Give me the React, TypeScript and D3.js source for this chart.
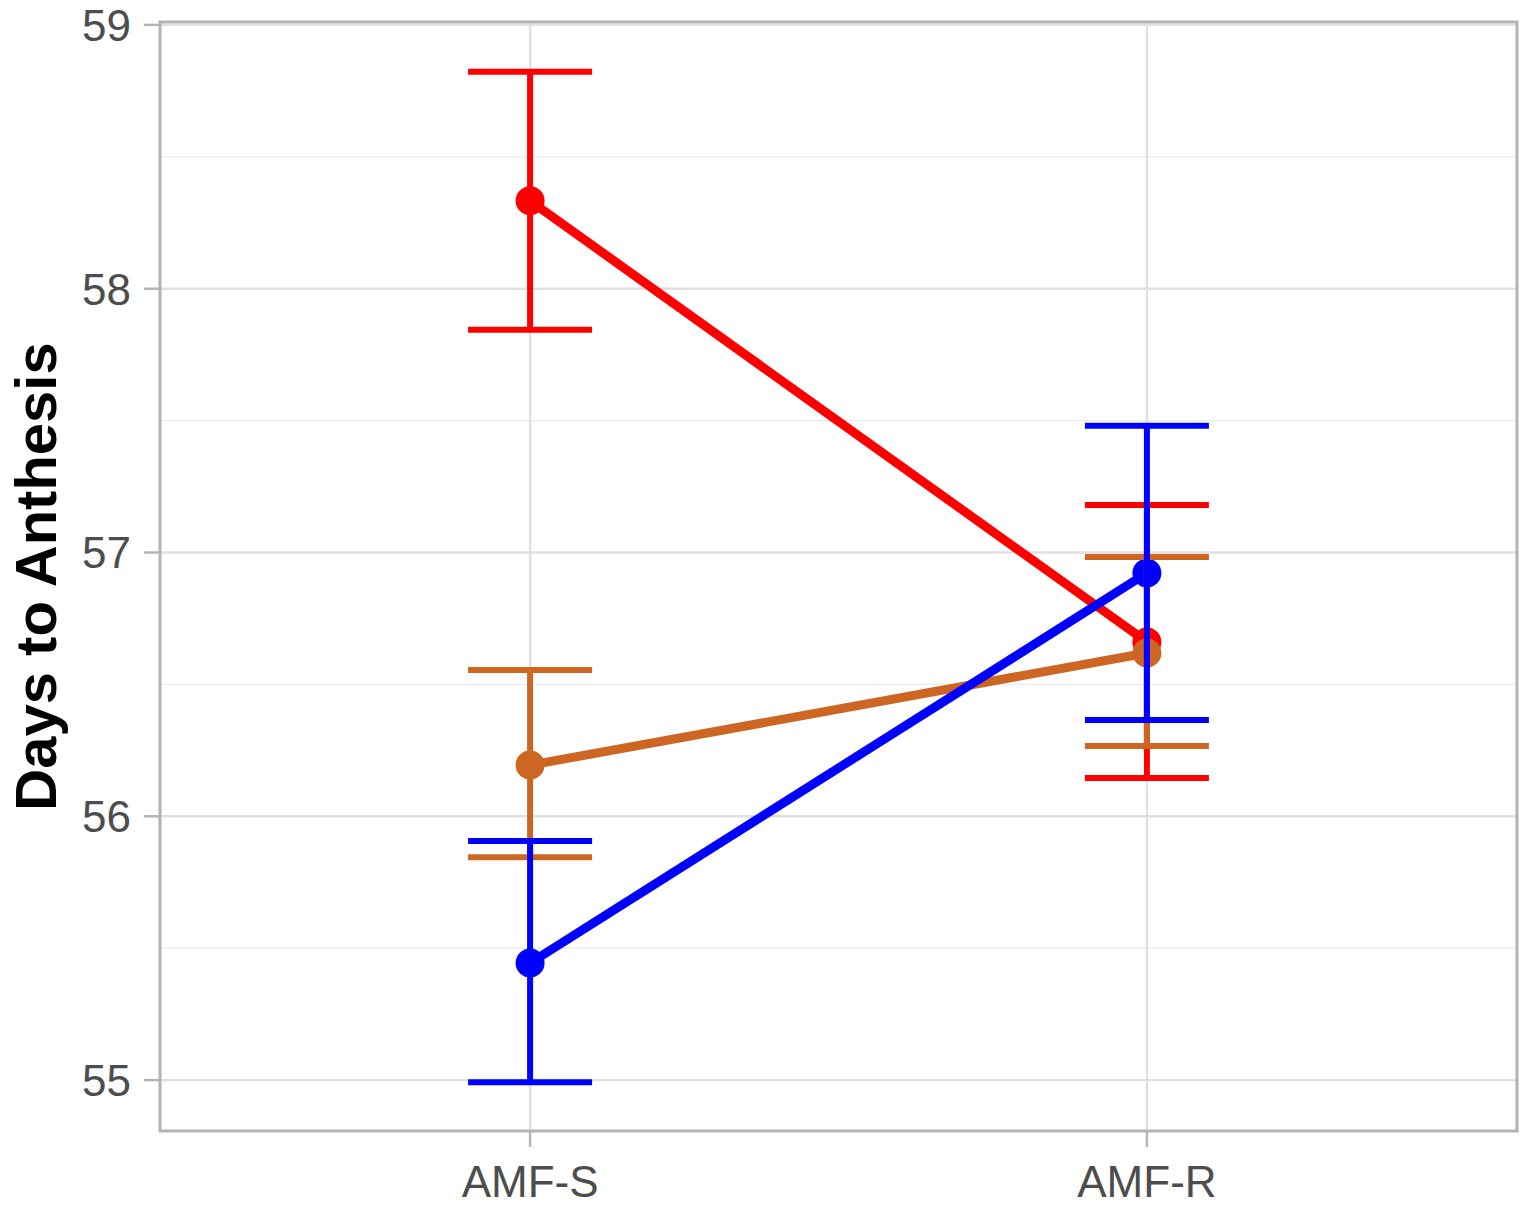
import React from "react";
import * as d3 from "d3";

const categories = ["AMF-S", "AMF-R"];
const seriesNames = ["red", "orange", "blue"];
const seriesColors = ["#FF0000", "#CC6622", "#0000FF"];
const redMean = [58.333, 56.661];
const redLow = [57.844, 56.145];
const redHigh = [58.822, 57.18];
const orangeMean = [56.194, 56.619];
const orangeLow = [55.845, 56.266];
const orangeHigh = [56.555, 56.983];
const blueMean = [55.444, 56.922];
const blueLow = [54.992, 56.365];
const blueHigh = [55.906, 57.48];
const yTicks = [55, 56, 57, 58, 59];
const yMinor = [55.5, 56.5, 57.5, 58.5];

const series = [
  { mean: redMean, low: redLow, high: redHigh },
  { mean: orangeMean, low: orangeLow, high: orangeHigh },
  { mean: blueMean, low: blueLow, high: blueHigh },
];

export default function App() {
  const W = 1527, H = 1205;
  const left = 160, right = 1517, top = 22, bottom = 1131;
  const y = d3.scaleLinear().domain([54.807, 59.011]).range([bottom, top]);
  const xs = d3.scaleLinear().domain([0.4, 2.6]).range([left, right]);
  const x = (i: number) => xs(i + 1);
  const capHalf = 62;
  const line = d3.line<number>().x((_, i) => x(i)).y((d) => y(d));
  return (
    <svg width={W} height={H} style={{ position: "absolute", left: 0, top: 0 }} fontFamily="Liberation Sans, Arial, sans-serif">
      <rect x={0} y={0} width={W} height={H} fill="#fff" />
      {yMinor.map((t) => (
        <line key={"m" + t} x1={left} x2={right} y1={y(t)} y2={y(t)} stroke="#ebebeb" strokeWidth={1.2} />
      ))}
      {yTicks.map((t) => (
        <line key={"g" + t} x1={left} x2={right} y1={y(t)} y2={y(t)} stroke="#e0e0e0" strokeWidth={2.4} />
      ))}
      {categories.map((c, i) => (
        <line key={"gx" + c} x1={x(i)} x2={x(i)} y1={top} y2={bottom} stroke="#e0e0e0" strokeWidth={2.4} />
      ))}
      {series.map((s, k) => (
        <path key={"l" + k} d={line(s.mean) || ""} fill="none" stroke={seriesColors[k]} strokeWidth={9} />
      ))}
      {series.map((s, k) =>
        s.mean.map((m, i) => (
          <circle key={"p" + k + i} cx={x(i)} cy={y(m)} r={14.5} fill={seriesColors[k]} />
        ))
      )}
      {series.map((s, k) =>
        s.mean.map((_, i) => (
          <g key={"e" + k + i} stroke={seriesColors[k]} strokeWidth={6}>
            <line x1={x(i)} x2={x(i)} y1={y(s.low[i])} y2={y(s.high[i])} />
            <line x1={x(i) - capHalf} x2={x(i) + capHalf} y1={y(s.low[i])} y2={y(s.low[i])} />
            <line x1={x(i) - capHalf} x2={x(i) + capHalf} y1={y(s.high[i])} y2={y(s.high[i])} />
          </g>
        ))
      )}
      <rect x={left} y={top} width={right - left} height={bottom - top} fill="none" stroke="#b3b3b3" strokeWidth={3} />
      {yTicks.map((t) => (
        <g key={"t" + t}>
          <line x1={left - 16} x2={left} y1={y(t)} y2={y(t)} stroke="#b3b3b3" strokeWidth={2.4} />
          <text x={131} y={y(t)} dy="0.36em" textAnchor="end" fontSize={44} fill="#4d4d4d">{t}</text>
        </g>
      ))}
      {categories.map((c, i) => (
        <g key={"xt" + c}>
          <line x1={x(i)} x2={x(i)} y1={bottom} y2={bottom + 16} stroke="#b3b3b3" strokeWidth={2.4} />
          <text x={x(i)} y={1197} textAnchor="middle" fontSize={44} fill="#4d4d4d">{c}</text>
        </g>
      ))}
      <text transform={`translate(56, ${(top + bottom) / 2}) rotate(-90)`} textAnchor="middle" fontSize={58} fontWeight="bold" fill="#000">Days to Anthesis</text>
    </svg>
  );
}
